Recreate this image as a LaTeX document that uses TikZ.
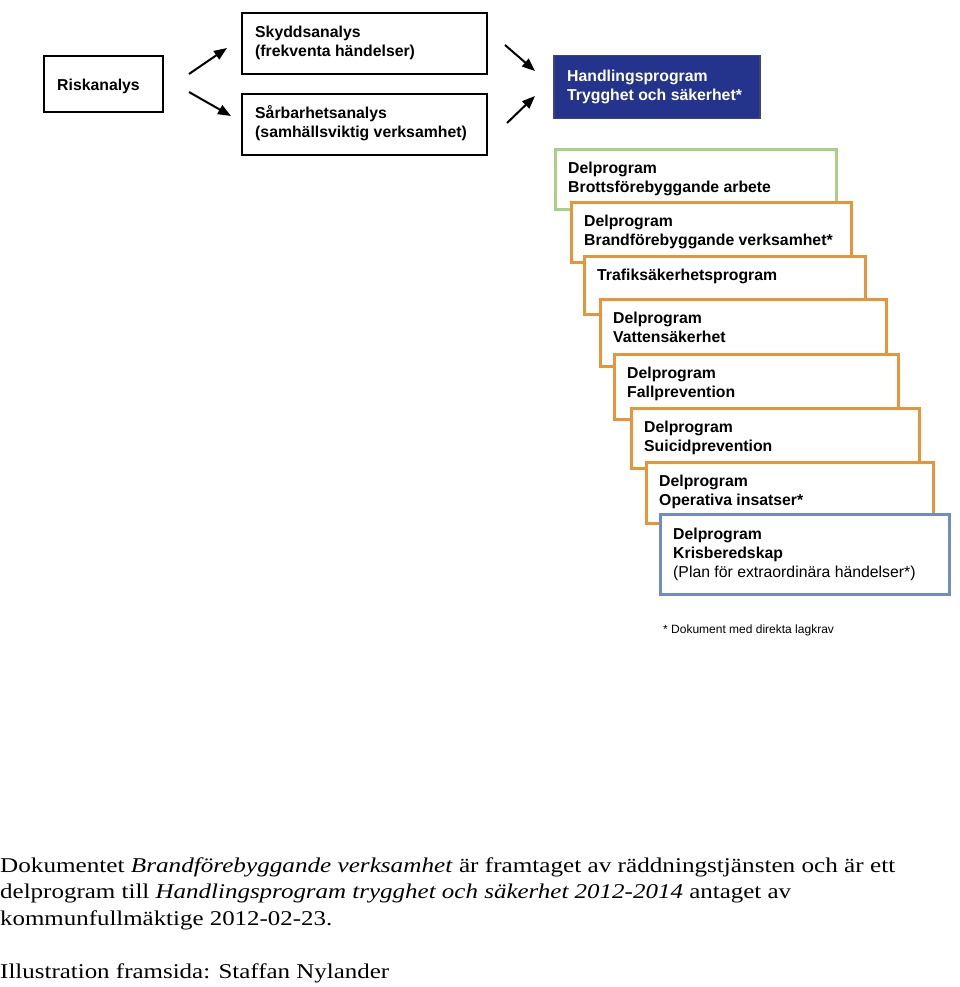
\documentclass[tikz,border=0pt]{standalone}
\usepackage{fontspec}
\usepackage{graphicx}
\setmainfont{Liberation Serif}
\newfontfamily\boxfont{Liberation Sans}
\usetikzlibrary{arrows.meta}
\definecolor{hpblue}{RGB}{36,52,140}
\definecolor{hpborder}{RGB}{60,70,110}
\definecolor{orng}{RGB}{232,148,58}
\definecolor{grn}{RGB}{168,208,135}
\definecolor{krisblue}{RGB}{112,140,196}
\begin{document}
\begin{tikzpicture}[x=1pt,y=-1pt,
  bx/.style={draw=black, line width=2.4pt, fill=white, anchor=north west, inner sep=0pt},
  obx/.style={bx, draw=orng, line width=3pt},
  lbl/.style={anchor=north west, inner sep=0pt, align=left, xshift=14pt, yshift=-11.7pt,
    font=\boxfont\bfseries\fontsize{15.8}{19}\selectfont},
  arr/.style={line width=2pt, -{Triangle[length=13pt,width=10pt]}},
  para/.style={anchor=base west, inner sep=0pt, font=\fontsize{21}{26}\selectfont}]
\useasboundingbox (0,0) rectangle (960,987);

% left part
\node[bx, minimum width=119pt, minimum height=56pt] (risk) at (43,55) {};
\node[lbl, yshift=-10pt] (riskt) at (risk.north west) {\strut Riskanalys};
\node[bx, minimum width=245pt, minimum height=61pt] (skydd) at (241,12) {};
\node[lbl] (skyddt) at (skydd.north west) {\strut Skyddsanalys\\(frekventa händelser)};
\node[bx, minimum width=245pt, minimum height=61pt] (sarb) at (241,93) {};
\node[lbl] (sarbt) at (sarb.north west) {\strut Sårbarhetsanalys\\(samhällsviktig verksamhet)};

\node[bx, fill=hpblue, draw=hpborder, line width=1.5pt, minimum width=206pt, minimum height=63pt] (hand) at (553,55) {};
\node[lbl, text=white, yshift=-1pt] (handt) at (hand.north west) {\strut Handlingsprogram\\Trygghet och säkerhet*};

% arrows
\coordinate (a1s) at (189,74); \coordinate (a1e) at (227,48);
\coordinate (a2s) at (189,92); \coordinate (a2e) at (231,116);
\coordinate (a3s) at (505,45); \coordinate (a3e) at (535,71);
\coordinate (a4s) at (507,123); \coordinate (a4e) at (535,96);
\draw[arr] (a1s) -- (a1e);
\draw[arr] (a2s) -- (a2e);
\draw[arr] (a3s) -- (a3e);
\draw[arr] (a4s) -- (a4e);

% stacked programmes
\node[bx, draw=grn, line width=3pt, minimum width=281pt, minimum height=60pt] (brott) at (554,148) {};
\node[lbl] (brottt) at (brott.north west) {\strut Delprogram\\Brottsförebyggande arbete};
\node[obx, minimum width=280pt, minimum height=60pt] (brand) at (570,201) {};
\node[lbl] (brandt) at (brand.north west) {\strut Delprogram\\Brandförebyggande verksamhet*};
\node[obx, minimum width=281pt, minimum height=58pt] (trafik) at (583,255) {};
\node[lbl] (trafikt) at (trafik.north west) {\strut Trafiksäkerhetsprogram};
\node[obx, minimum width=286pt, minimum height=67pt] (vatten) at (599,298) {};
\node[lbl] (vattent) at (vatten.north west) {\strut Delprogram\\Vattensäkerhet};
\node[obx, minimum width=284pt, minimum height=65pt] (fall) at (613,353) {};
\node[lbl] (fallt) at (fall.north west) {\strut Delprogram\\Fallprevention};
\node[obx, minimum width=288pt, minimum height=60pt] (suicid) at (630,407) {};
\node[lbl] (suicidt) at (suicid.north west) {\strut Delprogram\\Suicidprevention};
\node[obx, minimum width=287pt, minimum height=61pt] (oper) at (645,461) {};
\node[lbl] (opert) at (oper.north west) {\strut Delprogram\\Operativa insatser*};
\node[bx, draw=krisblue, line width=3pt, minimum width=289pt, minimum height=80pt] (kris) at (659,513) {};
\node[lbl, yshift=-1pt] (krist) at (kris.north west) {\strut Delprogram\\Krisberedskap\\\mdseries(Plan för extraordinära händelser*)};

\node[anchor=base west, inner sep=0pt, font=\boxfont\fontsize{12}{14}\selectfont] (foot) at (663,633) {* Dokument med direkta lagkrav};

% bottom text
\node[para] (p1) at (0,872) {\resizebox{895pt}{\height}{Dokumentet \textit{Brandförebyggande verksamhet} är framtaget av räddningstjänsten och är ett}};
\node[para] (p2) at (0,898) {\resizebox{791pt}{\height}{delprogram till \textit{Handlingsprogram trygghet och säkerhet 2012-2014} antaget av}};
\node[para] (p3) at (0,925) {\resizebox{332pt}{\height}{kommunfullmäktige 2012-02-23.}};
\node[para] (p4) at (0,978) {\resizebox{389pt}{\height}{Illustration framsida: Staffan Nylander}};
\end{tikzpicture}
\end{document}
